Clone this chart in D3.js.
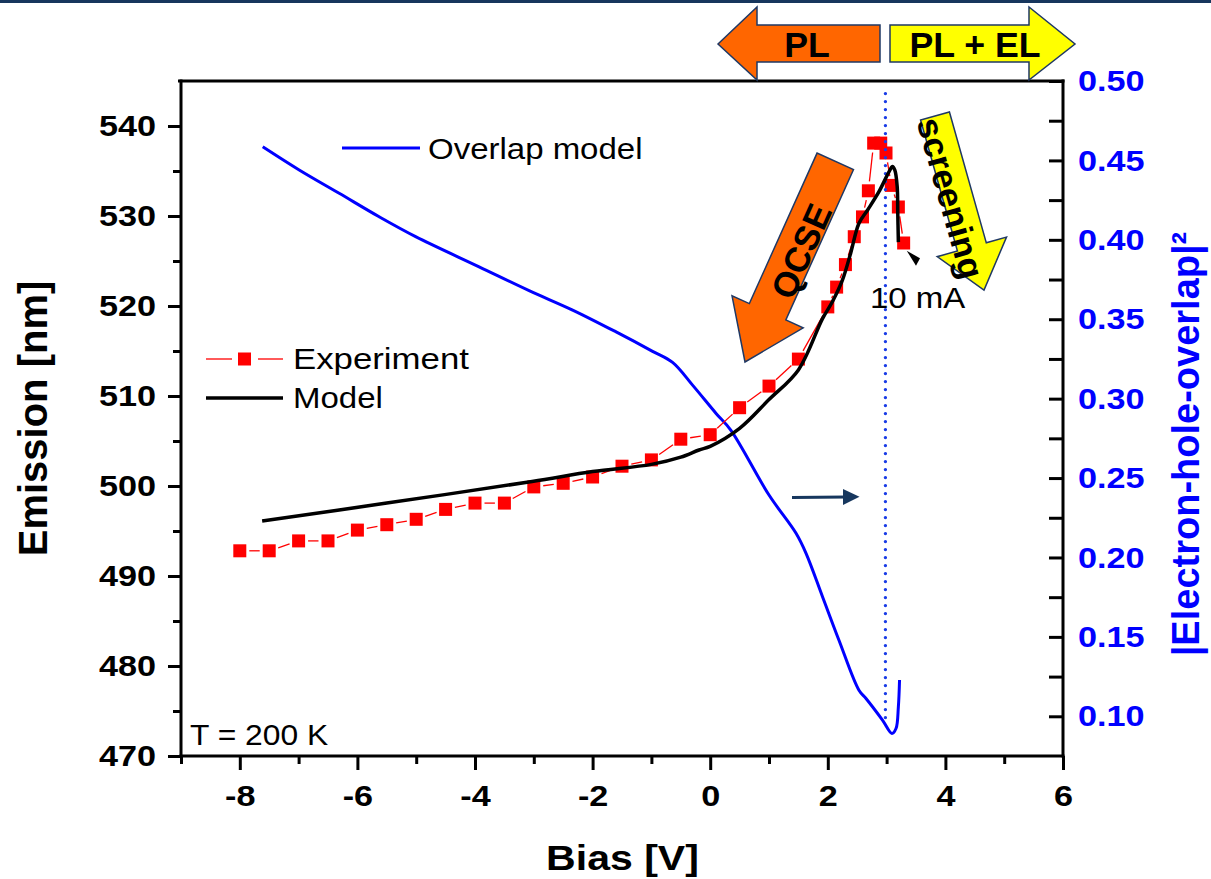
<!DOCTYPE html>
<html>
<head>
<meta charset="utf-8">
<script src="https://cdn.jsdelivr.net/npm/d3@7"></script>
<style>
  html, body { margin: 0; padding: 0; background: #ffffff; }
  svg { display: block; font-family: "Liberation Sans", Arial, Helvetica, sans-serif; }
</style>
</head>
<body>
<svg id="chart" width="1211" height="879"></svg>
<script>
// Measured emission wavelength vs. bias (red squares)
const expBias = [-8, -7.5, -7, -6.5, -6, -5.5, -5, -4.5, -4, -3.5, -3, -2.5, -2, -1.5, -1, -0.5,
                 0, 0.5, 1, 1.5, 2, 2.15, 2.3, 2.45, 2.59, 2.69, 2.78, 2.9, 2.99, 3.08, 3.2, 3.29];
const expEmission = [492.8, 492.8, 493.9, 493.9, 495.1, 495.7, 496.3, 497.4, 498.1, 498.1, 499.9, 500.3,
                     501.0, 502.2, 502.9, 505.2, 505.7, 508.7, 511.1, 514.1, 519.9, 522.1, 524.6, 527.7,
                     529.9, 532.8, 538.1, 538.1, 537.0, 533.4, 531.0, 527.0];

// Calculated emission wavelength (black line)
const modelBias = [-7.62, -5.5, -3.03, -2.0, -1.0, -0.5, -0.19, 0.0, 0.5, 1.0, 1.5, 1.91, 2.08,
                   2.25, 2.39, 2.53, 2.68, 2.87, 3.04, 3.10, 3.14, 3.18, 3.19, 3.20];
const modelEmission = [496.1, 498.1, 500.5, 501.6, 502.4, 503.2, 504.0, 504.4, 506.4, 509.6, 512.9,
                       518.6, 520.5, 522.9, 525.9, 529.2, 530.7, 532.7, 534.9, 535.5, 535.1,
                       533.3, 530.3, 527.1];

// Squared electron-hole overlap (blue line, right axis)
const overlapBias = [-7.61, -6.99, -6.31, -5.63, -5.01, -3.93, -3.08, -2.34, -1.60, -0.98, -0.64, -0.30,
                     0.10, 0.35, 1.0, 1.46, 1.63, 1.91, 2.19, 2.53, 2.65, 2.93, 3.09, 3.16, 3.20, 3.22];
const overlapValue = [0.4586, 0.444, 0.4293, 0.4145, 0.402, 0.383, 0.368, 0.3558, 0.342, 0.3298, 0.3228,
                      0.3085, 0.2907, 0.2802, 0.2393, 0.2152, 0.2026, 0.1753, 0.1479, 0.1164, 0.1112,
                      0.0976, 0.0892, 0.0923, 0.106, 0.1229];

// Axis ticks
const emissionTicks = [470, 480, 490, 500, 510, 520, 530, 540];
const emissionMinor = [475, 485, 495, 505, 515, 525, 535];
const overlapTicks = [0.10, 0.15, 0.20, 0.25, 0.30, 0.35, 0.40, 0.45, 0.50];
const overlapMinor = [0.125, 0.175, 0.225, 0.275, 0.325, 0.375, 0.425, 0.475];
const biasTicks = [-8, -6, -4, -2, 0, 2, 4, 6];
const biasMinor = [-9, -7, -5, -3, -1, 1, 3, 5];

// Bias at which the device carries 10 mA (dotted marker)
const currentBias = 2.98;

const svg = d3.select("#chart");
const X0 = 181, X1 = 1063, Y0 = 81, Y1 = 756;
const SX = 1.14; // horizontal widening of chart lettering

const x = d3.scaleLinear().domain([-9, 6]).range([X0, X1]);
const yL = d3.scaleLinear().domain([470, 545]).range([Y1, Y0]);
const yR = d3.scaleLinear().domain([0.075, 0.5]).range([Y1, Y0]);

// dark band across the very top of the page
svg.append("rect").attr("x", 0).attr("y", 0).attr("width", 1211).attr("height", 3).attr("fill", "#17365d");

// ---------- axes ----------
function styleAxis(g, color, sx) {
  g.select(".domain").remove();
  g.selectAll(".tick line").attr("stroke", "#000").attr("stroke-width", 3);
  g.selectAll(".tick text")
    .attr("fill", color)
    .style("font-size", "30px")
    .style("font-weight", "bold")
    .each(function () {
      const t = d3.select(this);
      const xv = +t.attr("x") || 0;
      t.attr("x", xv / sx).attr("transform", `scale(${sx},1)`);
    });
}
const plain = d => String(d);

// left (emission)
svg.append("g").attr("transform", `translate(${X0},0)`)
  .call(d3.axisLeft(yL).tickValues(emissionMinor).tickSize(8).tickFormat(""))
  .call(g => styleAxis(g, "#000", SX));
svg.append("g").attr("transform", `translate(${X0},0)`)
  .call(d3.axisLeft(yL).tickValues(emissionTicks).tickSize(13).tickPadding(12).tickFormat(plain))
  .call(g => styleAxis(g, "#000", SX));

// right (overlap), ticks pointing inward
svg.append("g").attr("transform", `translate(${X1},0)`)
  .call(d3.axisRight(yR).tickValues(overlapMinor).tickSizeInner(-14).tickSizeOuter(0).tickFormat(""))
  .call(g => styleAxis(g, "#0000ff", SX));
svg.append("g").attr("transform", `translate(${X1},0)`)
  .call(d3.axisRight(yR).tickValues(overlapTicks).tickSizeInner(-14).tickSizeOuter(0).tickPadding(15)
        .tickFormat(d3.format(".2f")))
  .call(g => styleAxis(g, "#0000ff", SX));

// bottom (bias)
svg.append("g").attr("transform", `translate(0,${Y1})`)
  .call(d3.axisBottom(x).tickValues(biasMinor).tickSize(8).tickFormat(""))
  .call(g => styleAxis(g, "#000", SX));
svg.append("g").attr("transform", `translate(0,${Y1})`)
  .call(d3.axisBottom(x).tickValues(biasTicks).tickSize(14).tickPadding(15).tickFormat(plain))
  .call(g => styleAxis(g, "#000", SX));

// frame
const frame = svg.append("g").attr("stroke", "#000").attr("stroke-width", 3).attr("fill", "none");
frame.append("line").attr("x1", X0).attr("x2", X0).attr("y1", Y0 - 1.5).attr("y2", Y1 + 1.5);
frame.append("line").attr("x1", X1).attr("x2", X1).attr("y1", Y0 - 1.5).attr("y2", Y1 + 1.5);
frame.append("line").attr("x1", X0 - 3).attr("x2", X1 + 1.5).attr("y1", Y0).attr("y2", Y0);
frame.append("line").attr("x1", X0 - 1.5).attr("x2", X1 + 1.5).attr("y1", Y1).attr("y2", Y1);

// ---------- axis titles ----------
svg.append("text")
  .attr("transform", `translate(47,${(Y0 + Y1) / 2}) rotate(-90)`)
  .attr("text-anchor", "middle")
  .style("font-size", "40px").style("font-weight", "bold")
  .text("Emission [nm]");

svg.append("text")
  .attr("transform", `translate(1199,444) rotate(-90)`)
  .attr("text-anchor", "middle").attr("fill", "#0000ff")
  .style("font-size", "38px").style("font-weight", "bold")
  .text("|Electron-hole-overlap|\u00b2");

svg.append("text")
  .attr("transform", `translate(${(X0 + X1) / 2 + 0.5},870) scale(${SX},1)`)
  .attr("text-anchor", "middle")
  .style("font-size", "36px").style("font-weight", "bold")
  .text("Bias [V]");

// ---------- data ----------
const overlapPts = overlapBias.map((b, i) => [x(b), yR(overlapValue[i])]);
const expPts = expBias.map((b, i) => [x(b), yL(expEmission[i])]);
const modelPts = modelBias.map((b, i) => [x(b), yL(modelEmission[i])]);

const line = d3.line().curve(d3.curveCatmullRom.alpha(0.5));

svg.append("path").attr("d", line(overlapPts))
  .attr("fill", "none").attr("stroke", "#0000ff").attr("stroke-width", 3).attr("stroke-linejoin", "round");

// experiment: thin red connectors that stop short of each square
const SQ = 13, GAP = SQ / 2 + 3;
const conn = svg.append("g").attr("stroke", "#ff0000").attr("stroke-width", 1.3);
for (let i = 0; i < expPts.length - 1; i++) {
  const [ax, ay] = expPts[i], [bx, by] = expPts[i + 1];
  const d = Math.hypot(bx - ax, by - ay);
  if (d <= 2 * GAP) continue;
  const ux = (bx - ax) / d, uy = (by - ay) / d;
  conn.append("line")
    .attr("x1", ax + ux * GAP).attr("y1", ay + uy * GAP)
    .attr("x2", bx - ux * GAP).attr("y2", by - uy * GAP);
}
svg.append("g").selectAll("rect").data(expPts).join("rect")
  .attr("x", d => d[0] - SQ / 2).attr("y", d => d[1] - SQ / 2)
  .attr("width", SQ).attr("height", SQ).attr("fill", "#ff0000");

// dotted marker at the 10 mA bias
svg.append("line")
  .attr("x1", x(currentBias)).attr("x2", x(currentBias))
  .attr("y1", yL(543.6)).attr("y2", yR(0.096))
  .attr("stroke", "#1a3ce6").attr("stroke-width", 3.4)
  .attr("stroke-dasharray", "0 8").attr("stroke-linecap", "round");

svg.append("path").attr("d", line(modelPts))
  .attr("fill", "none").attr("stroke", "#000").attr("stroke-width", 3.5).attr("stroke-linejoin", "round");

// ---------- legends and notes ----------
function label(txt, px, py, opts = {}) {
  return svg.append("text")
    .attr("transform", `translate(${px},${py}) scale(${opts.sx || SX},1)`)
    .attr("text-anchor", opts.anchor || "start")
    .attr("fill", opts.fill || "#000")
    .style("font-size", (opts.size || 30) + "px")
    .style("font-weight", opts.weight || "normal")
    .text(txt);
}

svg.append("line").attr("x1", 342).attr("x2", 420).attr("y1", 148).attr("y2", 148)
  .attr("stroke", "#0000ff").attr("stroke-width", 3);
label("Overlap model", 428, 159, { sx: 1.1 });

svg.append("line").attr("x1", 206).attr("x2", 232).attr("y1", 359).attr("y2", 359)
  .attr("stroke", "#ff0000").attr("stroke-width", 1.3);
svg.append("line").attr("x1", 258).attr("x2", 283).attr("y1", 359).attr("y2", 359)
  .attr("stroke", "#ff0000").attr("stroke-width", 1.3);
svg.append("rect").attr("x", 238).attr("y", 352.5).attr("width", SQ).attr("height", SQ).attr("fill", "#ff0000");
label("Experiment", 293, 369, { sx: 1.16 });

svg.append("line").attr("x1", 206).attr("x2", 283).attr("y1", 398).attr("y2", 398)
  .attr("stroke", "#000").attr("stroke-width", 3.5);
label("Model", 293, 408, { sx: 1.1 });

label("T = 200 K", 190, 745, { sx: 1.06 });
label("10 mA", 870, 308, { sx: 1.1 });

// small pointer next to the end of the model curve
svg.append("path").attr("d", "M906.7,250.7 L920,258.3 L916,265.7 Z").attr("fill", "#000");

// pointer telling that the blue curve belongs to the right axis
svg.append("line").attr("x1", 792).attr("x2", 846).attr("y1", 497.5).attr("y2", 497)
  .attr("stroke", "#17375e").attr("stroke-width", 2.8);
svg.append("path").attr("d", "M843,489 L859.5,496.8 L843,505 Z").attr("fill", "#17375e");

// ---------- block arrows ----------
function blockArrow(bx, by, tx, ty, bodyHalf, headHalf, headStart) {
  const L = Math.hypot(tx - bx, ty - by);
  const ux = (tx - bx) / L, uy = (ty - by) / L;
  const nx = -uy, ny = ux;
  const P = (a, p) => [bx + ux * a + nx * p, by + uy * a + ny * p];
  return [P(0, -bodyHalf), P(headStart, -bodyHalf), P(headStart, -headHalf), P(L, 0),
          P(headStart, headHalf), P(headStart, bodyHalf), P(0, bodyHalf)];
}
const poly = pts => "M" + pts.map(p => p.join(",")).join("L") + "Z";

// PL / PL + EL regime arrows
svg.append("path")
  .attr("d", poly([[718, 44], [757, 7], [757, 25], [880, 25], [880, 62], [757, 62], [757, 80]]))
  .attr("fill", "#ff6600").attr("stroke", "#1f3864").attr("stroke-width", 1.5);
svg.append("path")
  .attr("d", poly([[890, 25], [1029, 25], [1029, 7], [1075, 44], [1029, 80], [1029, 62], [890, 62]]))
  .attr("fill", "#ffff00").attr("stroke", "#1f3864").attr("stroke-width", 1.5);
label("PL", 807, 56.5, { anchor: "middle", size: 35, weight: "bold", sx: 1.02 });
label("PL + EL", 975, 56.5, { anchor: "middle", size: 35, weight: "bold", sx: 1.02 });

// QCSE arrow
svg.append("path")
  .attr("d", poly(blockArrow(835.3, 161.3, 745, 362, 20, 39, 165)))
  .attr("fill", "#ff6600").attr("stroke", "#1f3864").attr("stroke-width", 1.5);
svg.append("text")
  .attr("transform", "translate(801,251) rotate(-65.9)")
  .attr("text-anchor", "middle").attr("dominant-baseline", "central")
  .style("font-size", "35px").style("font-weight", "bold")
  .text("QCSE");

// screening arrow
svg.append("path")
  .attr("d", poly(blockArrow(935, 116, 984, 290, 15, 36, 136)))
  .attr("fill", "#ffff00").attr("stroke", "#1f3864").attr("stroke-width", 1.5);
svg.append("text")
  .attr("transform", "translate(951,198) rotate(74.3)")
  .attr("text-anchor", "middle").attr("dominant-baseline", "central")
  .style("font-size", "35px").style("font-weight", "bold")
  .text("screening");
</script>
</body>
</html>
